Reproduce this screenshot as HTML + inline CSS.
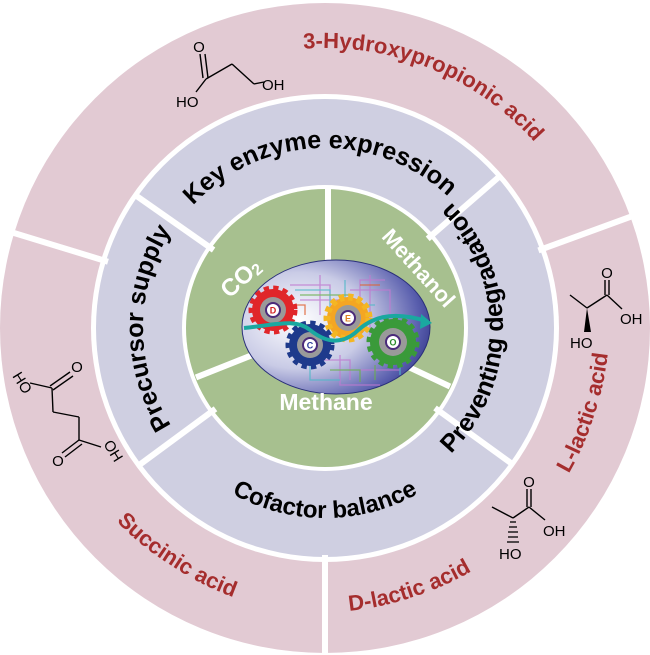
<!DOCTYPE html>
<html><head><meta charset="utf-8"><style>
html,body{margin:0;padding:0;background:#fff;}
svg{display:block;}
.b{font-family:"Liberation Sans",sans-serif;font-weight:bold;}
.m{font-family:"Liberation Sans",sans-serif;font-size:15px;fill:#000;}
</style></head><body>
<svg width="650" height="655" viewBox="0 0 650 655" xmlns="http://www.w3.org/2000/svg">
<defs>
<path id="p1" d="M220,587.6 A280,280 0 1,1 429.9,68.4 A280,280 0 1,1 220,587.6"/>
<path id="p2" d="M331.3,507.9 A180,180 0 1,1 318.7,148.1 A180,180 0 1,1 331.3,507.9"/>
<path id="p3" d="M507,328 A182,182 0 1,1 143,328 A182,182 0 1,1 507,328"/>
<path id="p4" d="M147,328 A178,178 0 1,0 503,328 A178,178 0 1,0 147,328"/>
<path id="p5" d="M325,138 A190,190 0 1,0 325,518 A190,190 0 1,0 325,138"/>
<path id="p6" d="M479.1,90.7 A283,283 0 1,0 170.9,565.3 A283,283 0 1,0 479.1,90.7"/>
<path id="p7" d="M237.5,58.9 A283,283 0 1,0 412.5,597.1 A283,283 0 1,0 237.5,58.9"/>
<path id="p8" d="M55.9,240.5 A283,283 0 1,0 594.1,415.5 A283,283 0 1,0 55.9,240.5"/>
<radialGradient id="eg" cx="0.3" cy="0.45" r="0.8">
<stop offset="0" stop-color="#ffffff"/><stop offset="0.45" stop-color="#c9cbe6"/><stop offset="0.8" stop-color="#5a5fae"/><stop offset="1" stop-color="#23287a"/>
</radialGradient>
</defs>
<circle cx="325" cy="328" r="325" fill="#e2cad3"/>
<circle cx="325" cy="328" r="234" fill="#fff"/>
<circle cx="325" cy="328" r="229" fill="#cfcfe1"/>
<circle cx="325" cy="328" r="143" fill="#fff"/>
<circle cx="325" cy="328" r="139" fill="#a7c08f"/>
<g stroke="#fff" stroke-width="6">
<line x1="213.6" y1="250" x2="135.8" y2="195.4"/>
<line x1="427.7" y1="238.8" x2="499.4" y2="176.5"/>
<line x1="435" y1="408" x2="511.9" y2="463.8"/>
<line x1="215.5" y1="408.8" x2="139" y2="465.2"/>
<line x1="108" y1="261.7" x2="9.5" y2="231.6"/>
<line x1="538.4" y1="250.4" x2="635.1" y2="215.1"/>
<line x1="325" y1="555" x2="325" y2="660"/>
<line x1="328" y1="188" x2="328" y2="270"/>
<line x1="196" y1="377.4" x2="260" y2="352"/>
<line x1="450" y1="386.5" x2="397.5" y2="361.8"/>
</g>
<!-- ellipse -->
<ellipse cx="336" cy="327" rx="94" ry="67" fill="url(#eg)" stroke="#2a2f7a" stroke-width="1"/>
<g stroke-width="1.3" fill="none" opacity="0.8">
<path d="M290,285 h40 v20 h30 v-25 h25 M300,300 h60 v15 M320,275 v40 M350,290 h40 v30 M370,275 v60 M300,360 h50 v20 M340,355 v30 h40 M360,370 h40" stroke="#c07ad0"/>
<path d="M295,290 h35 v30 M345,280 v25 h30 M310,365 v15 h30 M380,355 h20 v20" stroke="#4fb8c8"/>
<path d="M300,295 h50 M355,300 v20 h20 M330,370 h30 v12 M375,365 v15" stroke="#6ab04c"/>
<path d="M285,305 h20 v10 M360,285 h20" stroke="#e06030"/>
</g>
<!-- gears -->
<g>
<circle cx="273" cy="310" r="21" fill="#e0262a" stroke="#e0262a" stroke-width="7" stroke-dasharray="5 4"/>
<circle cx="273" cy="310" r="13" fill="#9a9a9a"/><circle cx="273" cy="310" r="7" fill="#fff" stroke="#4a2a7a" stroke-width="2"/>
<text x="273" y="313.5" font-size="9" text-anchor="middle" class="b" fill="#d02020">D</text>
<circle cx="348" cy="318" r="21" fill="#f4a623" stroke="#f4b623" stroke-width="7" stroke-dasharray="5 4"/>
<circle cx="348" cy="318" r="13" fill="#9a9a9a"/><circle cx="348" cy="318" r="7" fill="#fff" stroke="#4a2a7a" stroke-width="2"/>
<text x="348" y="321.5" font-size="9" text-anchor="middle" class="b" fill="#e08020">E</text>
<circle cx="310" cy="345" r="21" fill="#1e3a8c" stroke="#1e3a8c" stroke-width="7" stroke-dasharray="5 4"/>
<circle cx="310" cy="345" r="13" fill="#9a9a9a"/><circle cx="310" cy="345" r="7" fill="#fff" stroke="#4a2a7a" stroke-width="2"/>
<text x="310" y="348.5" font-size="9" text-anchor="middle" class="b" fill="#2a3a9a">C</text>
<circle cx="393" cy="342" r="23" fill="#3a9a3a" stroke="#3a9a3a" stroke-width="7" stroke-dasharray="5 4"/>
<circle cx="393" cy="342" r="14" fill="#9a9a9a"/><circle cx="393" cy="342" r="7" fill="#fff" stroke="#4a2a7a" stroke-width="2"/>
<text x="393" y="345.5" font-size="9" text-anchor="middle" class="b" fill="#2a8a2a">O</text>
</g>
<path d="M244,328 C275,325 295,318 310,330 C325,342 340,345 355,333 C370,318 390,310 426,321" fill="none" stroke="#1aa8a0" stroke-width="4"/>
<polygon points="432,323 421,314 420,329" fill="#1aa8a0"/>
<!-- green texts -->
<text class="b" font-size="24" fill="#fff" transform="translate(246,284) rotate(-42)" text-anchor="middle">CO<tspan font-size="16" dy="2">2</tspan></text>
<text class="b" font-size="22" fill="#fff" transform="translate(413,273) rotate(48)" text-anchor="middle">Methanol</text>
<text class="b" font-size="23" fill="#fff" x="326" y="410" text-anchor="middle">Methane</text>
<!-- ring texts -->
<g class="b">
<text font-size="22" fill="#a52d2d"><textPath href="#p1" startOffset="50%" text-anchor="middle">3-Hydroxypropionic acid</textPath></text>
<text font-size="22" fill="#a52d2d"><textPath href="#p6" startOffset="50%" text-anchor="middle">Succinic acid</textPath></text>
<text font-size="22" fill="#a52d2d"><textPath href="#p7" startOffset="50%" text-anchor="middle">D-lactic acid</textPath></text>
<text font-size="22" fill="#a52d2d"><textPath href="#p8" startOffset="50%" text-anchor="middle">L-lactic acid</textPath></text>
<text font-size="25" fill="#000"><textPath href="#p2" startOffset="50%" text-anchor="middle">Key enzyme expression</textPath></text>
<text font-size="25" fill="#000"><textPath href="#p3" startOffset="50%" text-anchor="middle">Precursor supply</textPath></text>
<text font-size="25" fill="#000"><textPath href="#p4" startOffset="50%" text-anchor="middle">Preventing degradation</textPath></text>
<text font-size="24" fill="#000"><textPath href="#p5" startOffset="50%" text-anchor="middle">Cofactor balance</textPath></text>
</g>
<!-- molecules -->
<g stroke="#000" stroke-width="1.4" fill="none">
<line x1="200" y1="54" x2="203" y2="78"/><line x1="205" y1="54" x2="208" y2="78"/>
<line x1="206" y1="79" x2="196" y2="92"/><line x1="206" y1="79" x2="232" y2="64"/><line x1="232" y1="64" x2="254" y2="84"/><line x1="254" y1="84" x2="264" y2="82"/>
<line x1="70" y1="372" x2="50" y2="386"/><line x1="73" y1="376" x2="53" y2="390"/>
<line x1="52" y1="388" x2="30" y2="383"/><line x1="52" y1="388" x2="53" y2="412"/><line x1="53" y1="412" x2="79" y2="417"/><line x1="79" y1="417" x2="79" y2="440"/>
<line x1="79" y1="440" x2="62" y2="453"/><line x1="82" y1="444" x2="65" y2="457"/><line x1="79" y1="440" x2="101" y2="447"/>
<line x1="605" y1="280" x2="605" y2="295"/><line x1="609" y1="280" x2="609" y2="295"/>
<line x1="607" y1="295" x2="587" y2="308"/><line x1="587" y1="308" x2="570" y2="295"/><line x1="607" y1="295" x2="622" y2="309"/>
<line x1="527" y1="489" x2="527" y2="507"/><line x1="531" y1="489" x2="531" y2="507"/>
<line x1="529" y1="507" x2="513" y2="518"/><line x1="513" y1="518" x2="492" y2="507"/><line x1="529" y1="507" x2="545" y2="520"/>
</g>
<polygon points="587,308 584,332 591,332" fill="#000"/>
<g stroke="#000" stroke-width="1.3"><line x1="510" y1="522" x2="516" y2="522"/><line x1="509" y1="527" x2="517" y2="527"/><line x1="508" y1="532" x2="518" y2="532"/><line x1="508" y1="537" x2="518" y2="537"/><line x1="507" y1="542" x2="519" y2="542"/></g>
<g class="m">
<text x="199" y="52" text-anchor="middle">O</text>
<text x="176" y="107">HO</text>
<text x="262" y="90">OH</text>
<text x="77" y="372" text-anchor="middle">O</text>
<text transform="translate(12,376) rotate(58)">HO</text>
<text x="58" y="466" text-anchor="middle">O</text>
<text transform="translate(103,444) rotate(58)">OH</text>
<text x="607" y="278" text-anchor="middle">O</text>
<text x="620" y="324">OH</text>
<text x="570" y="348">HO</text>
<text x="529" y="487" text-anchor="middle">O</text>
<text x="543" y="536">OH</text>
<text x="499" y="559">HO</text>
</g>
</svg>
</body></html>
